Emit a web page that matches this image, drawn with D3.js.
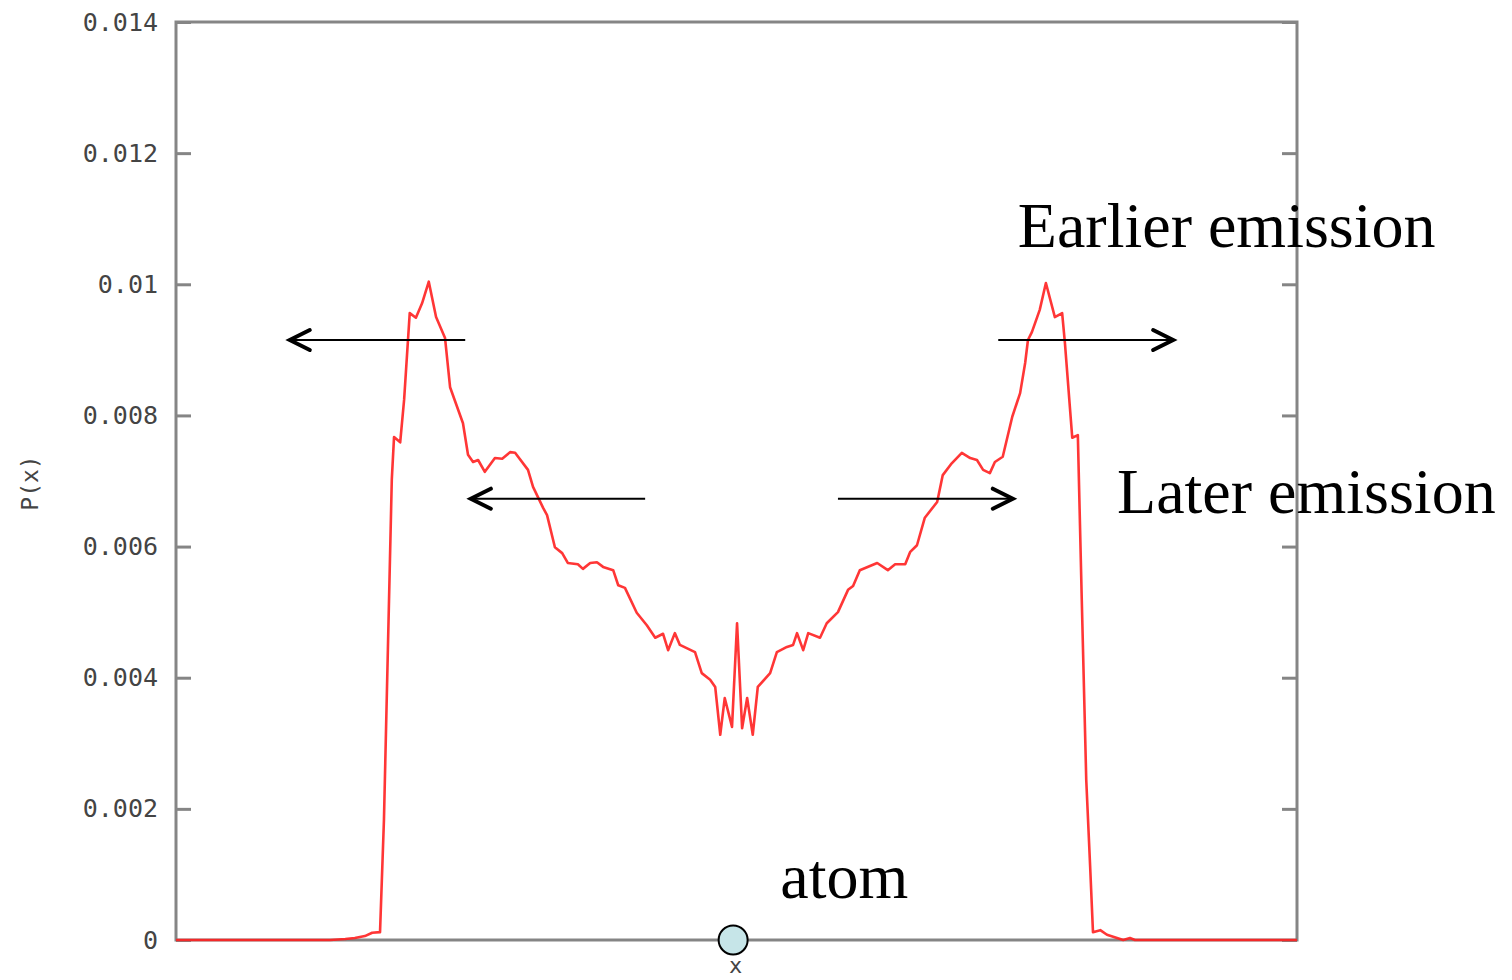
<!DOCTYPE html>
<html>
<head>
<meta charset="utf-8">
<script src="https://cdn.jsdelivr.net/npm/d3@7"></script>
<style>
  html, body { margin: 0; padding: 0; background: #fff; overflow: hidden; }
</style>
</head>
<body>
<svg></svg>
<script>
// P(x) curve, x in arbitrary units (-1..1)
let xValues = [-1.000, -0.725, -0.698, -0.681, -0.663, -0.650, -0.636, -0.629, -0.622, -0.615,
  -0.611, -0.600, -0.593, -0.583, -0.572, -0.561, -0.549, -0.536, -0.520, -0.511,
  -0.488, -0.479, -0.470, -0.461, -0.449, -0.431, -0.418, -0.404, -0.395, -0.372,
  -0.363, -0.345, -0.338, -0.324, -0.311, -0.301, -0.283, -0.274, -0.261, -0.249,
  -0.238, -0.220, -0.211, -0.199, -0.178, -0.160, -0.145, -0.131, -0.122, -0.110,
  -0.101, -0.074, -0.062, -0.047, -0.038, -0.029, -0.021, -0.008, 0.001, 0.010,
  0.019, 0.029, 0.038, 0.060, 0.072, 0.090, 0.101, 0.108, 0.119, 0.128,
  0.149, 0.161, 0.181, 0.199, 0.208, 0.220, 0.251, 0.270, 0.283, 0.301,
  0.310, 0.322, 0.336, 0.358, 0.368, 0.384, 0.402, 0.417, 0.429, 0.440,
  0.452, 0.461, 0.475, 0.492, 0.506, 0.515, 0.520, 0.527, 0.541, 0.552,
  0.568, 0.581, 0.586, 0.599, 0.609, 0.616, 0.624, 0.631, 0.636, 0.649,
  0.661, 0.672, 0.690, 0.702, 0.711, 1.000]

let pValues = [0, 0, 0.000015, 0.00003, 0.00006, 0.00011, 0.00012, 0.00183, 0.00442, 0.00702,
  0.00767, 0.00759, 0.00824, 0.00956, 0.00949, 0.00971, 0.01004, 0.00950, 0.00918, 0.00843,
  0.00788, 0.00740, 0.00729, 0.00732, 0.00714, 0.00735, 0.00734, 0.00744, 0.00743, 0.00717,
  0.00691, 0.00659, 0.00648, 0.00599, 0.00590, 0.00575, 0.00573, 0.00566, 0.00575, 0.00576,
  0.00569, 0.00564, 0.00541, 0.00537, 0.00499, 0.00480, 0.00461, 0.00467, 0.00442, 0.00468,
  0.00450, 0.00439, 0.00407, 0.00397, 0.00386, 0.00313, 0.00369, 0.00325, 0.00483, 0.00323,
  0.00369, 0.00313, 0.00386, 0.00407, 0.00439, 0.00447, 0.00450, 0.00468, 0.00442, 0.00468,
  0.00461, 0.00483, 0.00500, 0.00534, 0.00540, 0.00564, 0.00575, 0.00564, 0.00573, 0.00573,
  0.00592, 0.00602, 0.00644, 0.00668, 0.00709, 0.00727, 0.00743, 0.00735, 0.00732, 0.00717,
  0.00712, 0.00729, 0.00737, 0.00798, 0.00834, 0.00880, 0.00915, 0.00927, 0.00961, 0.01002,
  0.00950, 0.00956, 0.00910, 0.00766, 0.00770, 0.00519, 0.00244, 0.00111, 0.00012, 0.00015,
  0.00008, 0.00005, 0, 0.00003, 0, 0]

let yTicks = [0, 0.002, 0.004, 0.006, 0.008, 0.01, 0.012, 0.014]
let yTickLabels = ["0", "0.002", "0.004", "0.006", "0.008", "0.01", "0.012", "0.014"]

// arrows: x from, x to, y
let arrowFrom = [-0.484, -0.163, 0.467, 0.181]
let arrowTo = [-0.797, -0.474, 0.779, 0.493]
let arrowY = [0.00915, 0.00673, 0.00915, 0.00673]

let noteTexts = ["Earlier emission", "Later emission", "atom"]
let noteX = [0.502, 0.679, 0.078]
let noteY = [0.01057, 0.00651, 0.00064]

let atomX = -0.006

let width = 1512
let height = 980
let padLeft = 176, padRight = 1297, padTop = 22, padBottom = 940

let svg = d3.select("svg")
  .attr("width", width)
  .attr("height", height)

let xScale = d3.scaleLinear().domain([-1, 1]).range([padLeft, padRight])
let yScale = d3.scaleLinear().domain([0, 0.014]).range([padBottom, padTop])

let frameColor = "#858585"

// left axis with inward ticks
let yAxis = d3.axisLeft(yScale)
  .tickValues(yTicks)
  .tickFormat((d, i) => yTickLabels[i])
  .tickSizeInner(-15)
  .tickSizeOuter(0)
  .tickPadding(18)
svg.append("g")
   .attr("transform", "translate(" + padLeft + ",0)")
   .call(yAxis)
   .call(g => g.select(".domain").remove())
   .call(g => g.selectAll("line").attr("stroke", frameColor).attr("stroke-width", 3))
   .call(g => g.selectAll("text")
     .attr("fill", "#444")
     .style("font-family", "'DejaVu Sans Mono', monospace")
     .style("font-size", "25px"))

// right ticks
let yAxisRight = d3.axisRight(yScale)
  .tickValues(yTicks)
  .tickFormat("")
  .tickSizeInner(-15)
  .tickSizeOuter(0)
svg.append("g")
   .attr("transform", "translate(" + padRight + ",0)")
   .call(yAxisRight)
   .call(g => g.select(".domain").remove())
   .call(g => g.selectAll("line").attr("stroke", frameColor).attr("stroke-width", 3))

// frame
svg.append("rect")
   .attr("x", padLeft)
   .attr("y", padTop)
   .attr("width", padRight - padLeft)
   .attr("height", padBottom - padTop)
   .attr("fill", "none")
   .attr("stroke", frameColor)
   .attr("stroke-width", 3)

// axis titles
svg.append("text")
   .attr("transform", "translate(38," + ((padTop + padBottom) / 2 + 2) + ") rotate(-90)")
   .attr("text-anchor", "middle")
   .attr("fill", "#444")
   .style("font-family", "'DejaVu Sans Mono', monospace")
   .style("font-size", "23px")
   .text("P(x)")
svg.append("text")
   .attr("x", xScale(0) - 1)
   .attr("y", 973)
   .attr("text-anchor", "middle")
   .attr("fill", "#444")
   .style("font-family", "'DejaVu Sans Mono', monospace")
   .style("font-size", "22px")
   .text("x")

// curve
let points = xValues.map((x, i) => [x, pValues[i]])
let line = d3.line()
  .x(d => xScale(d[0]))
  .y(d => yScale(d[1]))
svg.append("path")
   .datum(points)
   .attr("d", line)
   .attr("fill", "none")
   .attr("stroke", "#ff2020")
   .attr("stroke-opacity", 0.9)
   .attr("stroke-width", 2.6)
   .attr("stroke-linejoin", "round")

// arrows
arrowFrom.forEach((x0, i) => {
  let x1 = arrowTo[i]
  let y = yScale(arrowY[i])
  let dir = x1 > x0 ? 1 : -1
  let tip = xScale(x1)
  svg.append("line")
     .attr("x1", xScale(x0))
     .attr("x2", tip)
     .attr("y1", y)
     .attr("y2", y)
     .attr("stroke", "#000")
     .attr("stroke-width", 2)
  svg.append("path")
     .attr("d", "M" + (tip - dir * 20) + "," + (y - 10) + "L" + tip + "," + y + "L" + (tip - dir * 20) + "," + (y + 10))
     .attr("fill", "none")
     .attr("stroke", "#000")
     .attr("stroke-width", 4)
     .attr("stroke-linecap", "round")
     .attr("stroke-linejoin", "miter")
})

// notes
noteTexts.forEach((t, i) => {
  svg.append("text")
     .attr("x", xScale(noteX[i]))
     .attr("y", yScale(noteY[i]))
     .attr("fill", "#000")
     .style("font-family", "'Liberation Serif', 'Times New Roman', serif")
     .style("font-size", "64px")
     .text(t)
})

// atom marker
svg.append("circle")
   .attr("cx", xScale(atomX))
   .attr("cy", yScale(0))
   .attr("r", 14.5)
   .attr("fill", "#c6e5e8")
   .attr("stroke", "#000")
   .attr("stroke-width", 2)
</script>
</body>
</html>
